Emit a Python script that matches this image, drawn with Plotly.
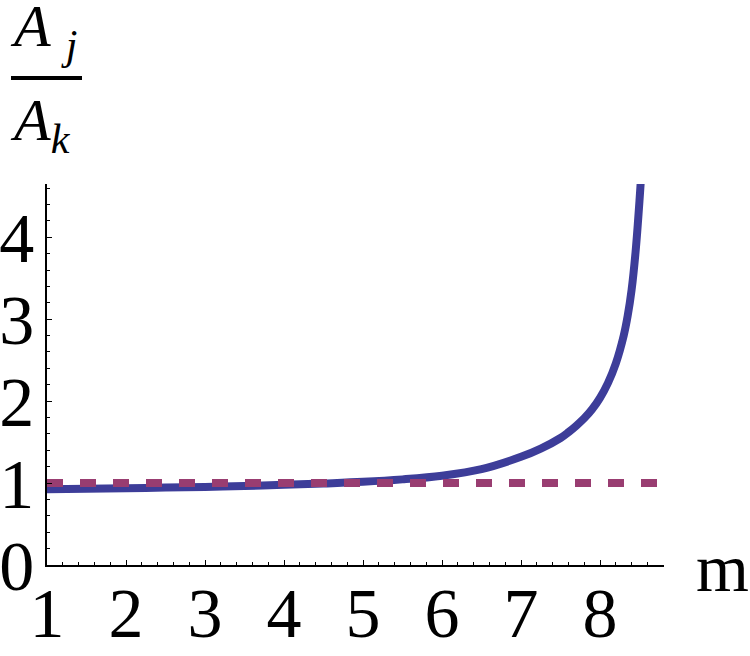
import plotly.graph_objects as go

# values
m_vals = [1.0, 1.5, 2.0, 2.5, 3.0, 3.5, 4.0, 4.5, 5.0, 5.5, 6.0, 6.5, 7.0, 7.25, 7.5,
          7.6, 7.7, 7.8, 7.9, 8.0, 8.1, 8.2, 8.3, 8.35, 8.4, 8.45, 8.5, 8.53]
ratio_vals = [0.925, 0.93, 0.937, 0.945, 0.953, 0.965, 0.978, 0.995, 1.015, 1.045, 1.09,
              1.17, 1.32, 1.42, 1.55, 1.62, 1.70, 1.79, 1.90, 2.04, 2.22, 2.46, 2.8,
              3.04, 3.36, 3.82, 4.45, 4.9]

ref_x = [1.0, 8.81]
ref_y = [1.0, 1.0]

x_ticks = [1, 2, 3, 4, 5, 6, 7, 8]
y_ticks = [0, 1, 2, 3, 4]

BLUE = "rgb(61,61,153)"
PURPLE = "rgb(153,61,113)"
FONT = "'Liberation Serif', 'Times New Roman', Times, serif"

# plot area in pixels
L, R, T, B = 47, 664, 184, 565
W, H = 750, 656


def px_x(p):
    return (p - L) / (R - L)


def px_y(p):
    return (B - p) / (B - T)


fig = go.Figure()

fig.add_trace(go.Scatter(x=m_vals, y=ratio_vals, mode="lines",
                         line=dict(color=BLUE, width=8, shape="spline"),
                         showlegend=False))
fig.add_trace(go.Scatter(x=ref_x, y=ref_y, mode="lines",
                         line=dict(color=PURPLE, width=8, dash="16px,17px"),
                         showlegend=False))

axis_common = dict(
    showgrid=False, zeroline=False, showline=True, linecolor="black", linewidth=1.5,
    ticks="inside", ticklen=5, tickwidth=1, tickcolor="black", automargin=False,
    tickfont=dict(family=FONT, size=70, color="black"),
)

fig.update_xaxes(range=[1, 8.81], tickvals=x_ticks, ticklabelstandoff=-14,
                 minor=dict(ticks="inside", ticklen=3, dtick=0.2, tick0=1, tickcolor="black"),
                 **axis_common)
fig.update_yaxes(range=[0, 4.65], tickvals=y_ticks, ticklabelstandoff=-3,
                 minor=dict(ticks="inside", ticklen=3, dtick=0.2, tick0=0, tickcolor="black"),
                 **axis_common)

# axis label m
fig.add_annotation(text="m", x=px_x(694), y=px_y(568), xref="paper", yref="paper",
                   xanchor="left", yanchor="middle", showarrow=False,
                   font=dict(family=FONT, size=68, color="black"))

# fraction A_j / A_k
fig.add_annotation(text="<i>A</i> <sub><i>j</i></sub>", x=px_x(8), y=px_y(30),
                   xref="paper", yref="paper", xanchor="left", yanchor="middle",
                   showarrow=False, font=dict(family=FONT, size=60, color="black"))
fig.add_annotation(text="<i>A</i><sub><i>k</i></sub>", x=px_x(8), y=px_y(124),
                   xref="paper", yref="paper", xanchor="left", yanchor="middle",
                   showarrow=False, font=dict(family=FONT, size=60, color="black"))
fig.add_shape(type="line", xref="paper", yref="paper",
              x0=px_x(11), x1=px_x(82), y0=px_y(78), y1=px_y(78),
              line=dict(color="black", width=4))

fig.update_layout(width=W, height=H, plot_bgcolor="white", paper_bgcolor="white",
                  margin=dict(l=L, r=W - R, t=T, b=H - B))

# the page body has a default margin that would push the figure off the window
fig.write_html("out.html", config={"displayModeBar": False},
               post_script="document.body.style.margin='0';")
